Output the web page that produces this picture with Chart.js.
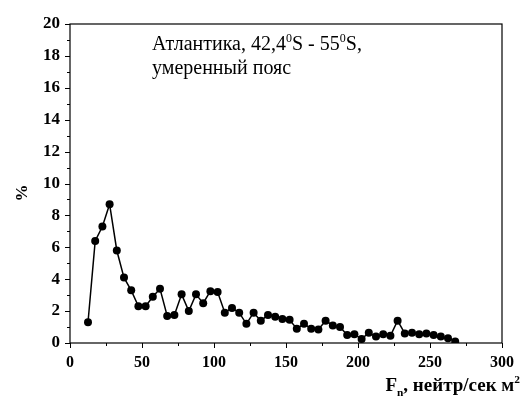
<!DOCTYPE html>
<html>
<head>
<meta charset="utf-8">
<script src="https://cdn.jsdelivr.net/npm/chart.js@4"></script>
<style>
  html, body { margin: 0; padding: 0; background: #fff; }
  #wrap { width: 524px; height: 407px; }
</style>
</head>
<body>
<div id="wrap"><canvas id="myChart" width="524" height="407"></canvas></div>
<script>
// Данные
const fluxValues = [12.5, 17.5, 22.5, 27.5, 32.5, 37.5, 42.5, 47.5, 52.5, 57.5,
    62.5, 67.5, 72.5, 77.5, 82.5, 87.5, 92.5, 97.5, 102.5, 107.5,
    112.5, 117.5, 122.5, 127.5, 132.5, 137.5, 142.5, 147.5, 152.5, 157.5,
    162.5, 167.5, 172.5, 177.5, 182.5, 187.5, 192.5, 197.5, 202.5, 207.5,
    212.5, 217.5, 222.5, 227.5, 232.5, 237.5, 242.5, 247.5, 252.5, 257.5,
    262.5, 267.5];
const percentValues = [1.3, 6.4, 7.3, 8.7, 5.8, 4.1, 3.3, 2.3, 2.3, 2.9,
    3.4, 1.7, 1.75, 3.05, 2.0, 3.05, 2.5, 3.25, 3.2, 1.9,
    2.2, 1.9, 1.2, 1.9, 1.4, 1.75, 1.65, 1.5, 1.45, 0.9,
    1.2, 0.9, 0.85, 1.4, 1.1, 1.0, 0.5, 0.55, 0.25, 0.65,
    0.4, 0.55, 0.45, 1.4, 0.6, 0.65, 0.55, 0.6, 0.5, 0.4,
    0.3, 0.1];
const xTicks = [0, 50, 100, 150, 200, 250, 300];
const yTicks = [0, 2, 4, 6, 8, 10, 12, 14, 16, 18, 20];

const serif = '"Liberation Serif", "Times New Roman", serif';

// рисует строку из кусочков с верхними/нижними индексами
function drawRich(ctx, parts, x, y, size, weight, align) {
    let total = 0;
    parts.forEach(p => {
        const s = p.sub || p.sup ? size * 0.6 : size;
        ctx.font = `${weight} ${s}px ${serif}`;
        total += ctx.measureText(p.t).width;
    });
    let cx = align === 'right' ? x - total : x;
    parts.forEach(p => {
        const s = p.sub || p.sup ? size * 0.6 : size;
        ctx.font = `${weight} ${s}px ${serif}`;
        let dy = 0;
        if (p.sup) dy = -size * 0.4;
        if (p.sub) dy = size * 0.25;
        ctx.fillText(p.t, cx, y + dy);
        cx += ctx.measureText(p.t).width;
    });
}

const framePlugin = {
    id: 'frame',
    afterDraw(chart) {
        const { ctx, chartArea: a } = chart;
        const xs = chart.scales.x, ys = chart.scales.y;
        ctx.save();
        ctx.strokeStyle = '#000';
        ctx.lineWidth = 1.2;
        ctx.strokeRect(a.left, a.top, a.right - a.left, a.bottom - a.top);
        // засечки
        ctx.lineWidth = 1;
        ctx.beginPath();
        for (let v = 0; v <= 300; v += 25) {
            const px = Math.round(xs.getPixelForValue(v)) + 0.5;
            const len = v % 50 === 0 ? 5 : 3;
            ctx.moveTo(px, a.bottom);
            ctx.lineTo(px, a.bottom + len);
        }
        for (let v = 0; v <= 20; v += 1) {
            const py = Math.round(ys.getPixelForValue(v)) + 0.5;
            const len = v % 2 === 0 ? 5 : 3;
            ctx.moveTo(a.left, py);
            ctx.lineTo(a.left - len, py);
        }
        ctx.stroke();

        ctx.fillStyle = '#000';
        ctx.textBaseline = 'alphabetic';
        // подпись в поле графика
        drawRich(ctx, [{ t: 'Атлантика, 42,4' }, { t: '0', sup: true }, { t: 'S - 55' }, { t: '0', sup: true }, { t: 'S,' }],
            152, 50, 20, 'normal', 'left');
        drawRich(ctx, [{ t: 'умеренный пояс' }], 152, 74, 20, 'normal', 'left');
        // подпись оси X
        drawRich(ctx, [{ t: 'F' }, { t: 'n', sub: true }, { t: ', нейтр/сек м' }, { t: '2', sup: true }],
            520, 391, 19, 'bold', 'right');
        // подпись оси Y
        ctx.translate(27, 193);
        ctx.rotate(-Math.PI / 2);
        ctx.font = `bold 17px ${serif}`;
        ctx.textAlign = 'center';
        ctx.fillText('%', 0, 0);
        ctx.restore();
    }
};

const ctx = document.getElementById('myChart').getContext('2d');
const myChart = new Chart(ctx, {
    type: 'line',
    data: {
        datasets: [{
            data: fluxValues.map((x, i) => ({ x: x, y: percentValues[i] })),
            borderColor: '#000',
            backgroundColor: '#000',
            borderWidth: 1.5,
            pointRadius: 4,
            pointBackgroundColor: '#000',
            pointBorderWidth: 0,
            tension: 0
        }]
    },
    options: {
        responsive: false,
        animation: false,
        layout: { padding: { left: 0, top: 24, right: 21, bottom: 0 } },
        scales: {
            x: {
                type: 'linear',
                min: 0,
                max: 300,
                afterBuildTicks: s => { s.ticks = xTicks.map(v => ({ value: v })); },
                afterFit: s => { s.height = 64; },
                grid: { display: false, drawTicks: false },
                border: { display: false },
                ticks: {
                    padding: 10,
                    color: '#000',
                    font: { family: serif, size: 16, weight: 'bold' }
                }
            },
            y: {
                min: 0,
                max: 20,
                afterBuildTicks: s => { s.ticks = yTicks.map(v => ({ value: v })); },
                afterFit: s => { s.width = 70; },
                grid: { display: false, drawTicks: false },
                border: { display: false },
                ticks: {
                    padding: 10,
                    color: '#000',
                    font: { family: serif, size: 17, weight: 'bold' }
                }
            }
        },
        plugins: {
            legend: { display: false },
            tooltip: { enabled: false }
        }
    },
    plugins: [framePlugin]
});
</script>
</body>
</html>
